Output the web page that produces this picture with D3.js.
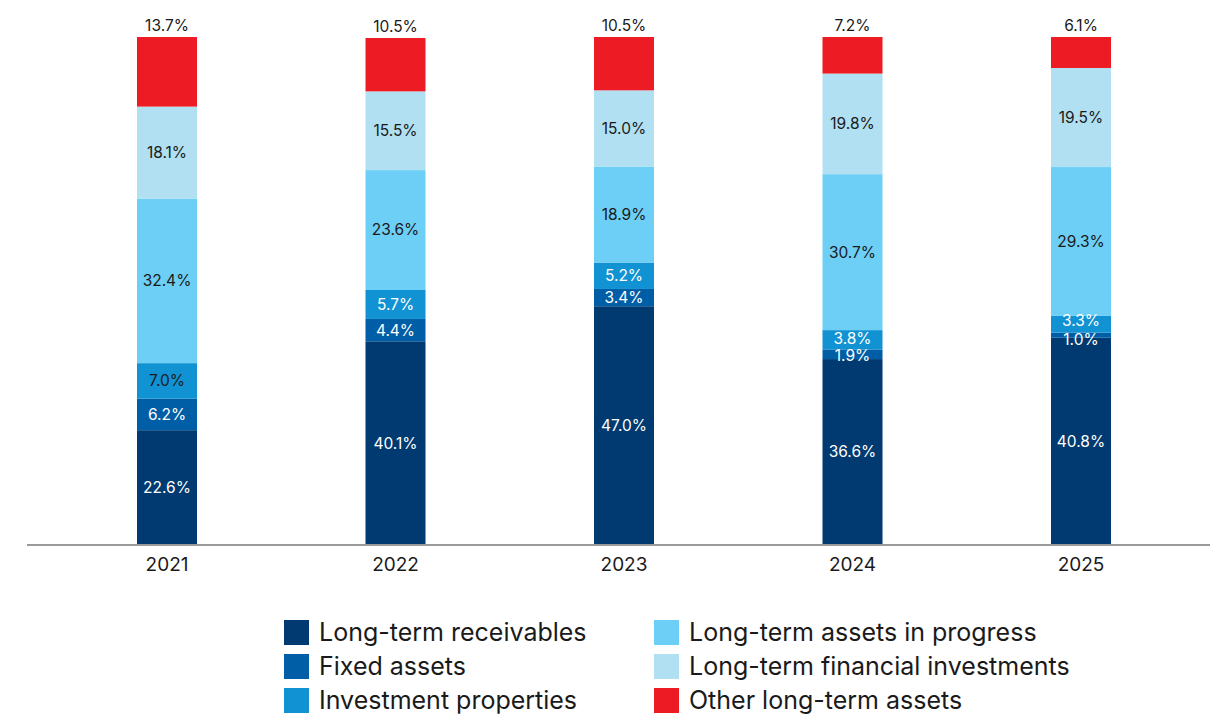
<!DOCTYPE html>
<html>
<head>
<meta charset="utf-8">
<script src="https://cdn.jsdelivr.net/npm/d3@7"></script>
<style>
  html, body { margin: 0; padding: 0; background: #fff; }
  svg { display: block; font-family: Inter, "Noto Sans", sans-serif; }
</style>
</head>
<body>
<svg id="chart" width="1210" height="717"></svg>
<script>
// Structure of long-term assets by year, % of total
const years = ["2021", "2022", "2023", "2024", "2025"];
const seriesNames = [
  "Long-term receivables",
  "Fixed assets",
  "Investment properties",
  "Long-term assets in progress",
  "Long-term financial investments",
  "Other long-term assets"
];
const longTermReceivables   = [22.6, 40.1, 47.0, 36.6, 40.8];
const fixedAssets           = [6.2, 4.4, 3.4, 1.9, 1.0];
const investmentProperties  = [7.0, 5.7, 5.2, 3.8, 3.3];
const assetsInProgress      = [32.4, 23.6, 18.9, 30.7, 29.3];
const financialInvestments  = [18.1, 15.5, 15.0, 19.8, 19.5];
const otherLongTermAssets   = [13.7, 10.5, 10.5, 7.2, 6.1];

const seriesValues = [
  longTermReceivables, fixedAssets, investmentProperties,
  assetsInProgress, financialInvestments, otherLongTermAssets
];
const colors = ["#003a70", "#005ea6", "#1192d3", "#6dcff6", "#b0e0f1", "#ed1c24"];
const labelColors = ["#ffffff", "#ffffff", "#ffffff", "#1a1a1a", "#1a1a1a", "#1a1a1a"];

const rows = years.map((y, i) => {
  const r = { year: y };
  seriesNames.forEach((s, k) => r[s] = seriesValues[k][i]);
  return r;
});
const stacked = d3.stack().keys(seriesNames)(rows);

const svg = d3.select("#chart");
const baseY = 545, topY = 37;

const x = d3.scaleBand()
  .domain(years)
  .range([52.75, 1195.25])
  .paddingInner(1 - 60 / 228.5)
  .paddingOuter((1 - 60 / 228.5) / 2);
const y = d3.scaleLinear().domain([0, 100]).range([baseY, topY]);

// stacked segments
const layers = svg.append("g").selectAll("g")
  .data(stacked)
  .join("g")
  .attr("fill", (d, k) => colors[k]);

layers.selectAll("rect")
  .data(d => d)
  .join("rect")
  .attr("x", d => x(d.data.year))
  .attr("width", x.bandwidth())
  .attr("y", d => y(d[1]))
  .attr("height", d => y(d[0]) - y(d[1]));

// value labels
const labels = svg.append("g").attr("font-size", 15.5).attr("text-anchor", "middle");
stacked.forEach((layer, k) => {
  const isTop = k === stacked.length - 1;
  layer.forEach((d, i) => {
    const cx = x(d.data.year) + x.bandwidth() / 2;
    let cy, fill = labelColors[k];
    if (isTop) {
      cy = y(d[1]) - 11;
    } else {
      cy = (y(d[0]) + y(d[1])) / 2;
      // the first year's investment-property label is set in dark ink
      if (k === 2 && i === 0) fill = "#1a1a1a";
      // spread the labels of the two thin segments so they stay legible
      if (i === 3) { if (k === 2) cy -= 1.5; if (k === 1) cy += 1.5; }
      if (i === 4) { if (k === 2) cy -= 3.5; if (k === 1) cy += 4; }
    }
    labels.append("text")
      .attr("x", cx)
      .attr("y", cy)
      .attr("dy", "0.35em")
      .attr("fill", fill)
      .text(d3.format(".1f")(seriesValues[k][i]) + "%");
  });
});

// baseline
svg.append("line")
  .attr("x1", 27).attr("x2", 1210)
  .attr("y1", baseY).attr("y2", baseY)
  .attr("stroke", "#9a9a9a").attr("stroke-width", 2);

// year axis
const xAxis = svg.append("g")
  .attr("transform", `translate(0,${baseY})`)
  .call(d3.axisBottom(x).tickSize(0).tickPadding(13));
xAxis.select(".domain").remove();
xAxis.selectAll("text")
  .attr("font-size", 19)
  .attr("font-family", "Inter, 'Noto Sans', sans-serif")
  .attr("fill", "#1a1a1a");

// legend: two columns of three
const legend = svg.append("g");
const colX = [284, 654], rowY = [632, 666, 700];
seriesNames.forEach((name, k) => {
  const col = Math.floor(k / 3), row = k % 3;
  const g = legend.append("g").attr("transform", `translate(${colX[col]},${rowY[row]})`);
  g.append("rect").attr("x", 0).attr("y", -12).attr("width", 25).attr("height", 25).attr("fill", colors[k]);
  g.append("text").attr("x", 35).attr("y", 0).attr("dy", "0.35em")
    .attr("font-size", 25).attr("fill", "#1a1a1a").text(name);
});
</script>
</body>
</html>
